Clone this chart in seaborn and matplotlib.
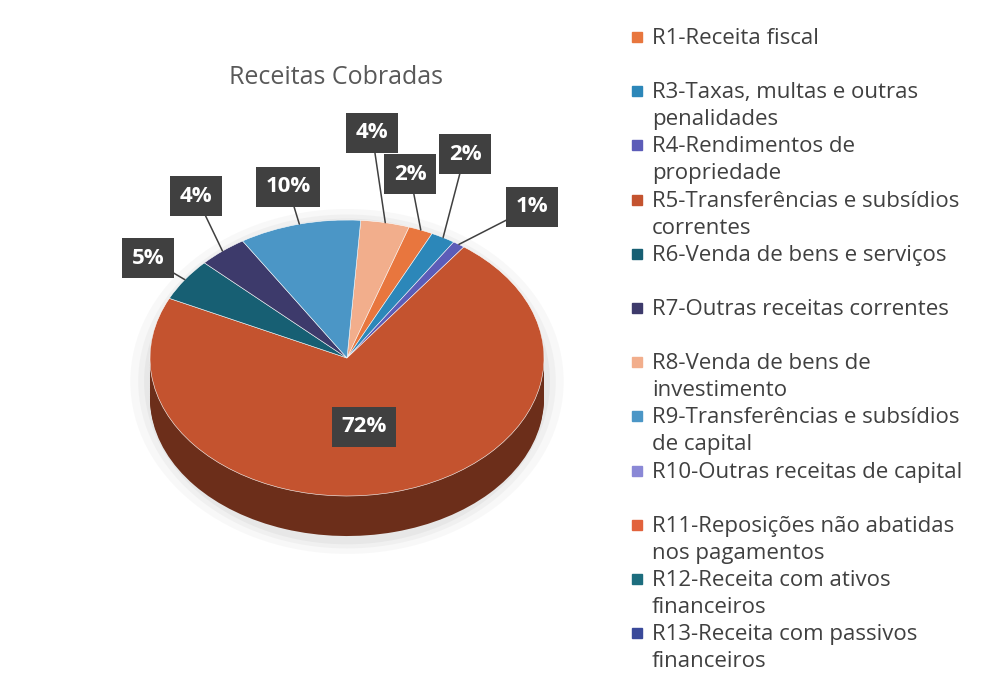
import numpy as np
import matplotlib
matplotlib.use("Agg")
import matplotlib.pyplot as plt
from matplotlib.patches import Rectangle, Ellipse
import seaborn as sns

# data
categories = ["R1-Receita fiscal",
              "R3-Taxas, multas e outras\npenalidades",
              "R4-Rendimentos de\npropriedade",
              "R5-Transferências e subsídios\ncorrentes",
              "R6-Venda de bens e serviços",
              "R7-Outras receitas correntes",
              "R8-Venda de bens de\ninvestimento",
              "R9-Transferências e subsídios\nde capital",
              "R10-Outras receitas de capital",
              "R11-Reposições não abatidas\nnos pagamentos",
              "R12-Receita com ativos\nfinanceiros",
              "R13-Receita com passivos\nfinanceiros"]
shares = [2, 2, 1, 72, 5, 4, 4, 10, 0, 0, 0, 0]
colors = ["#E8763E", "#2C87B9", "#5C5CB8", "#C4532F", "#175F73", "#3D3A6B",
          "#F2AE8C", "#4B96C6", "#8A88D6", "#E2623C", "#1C6D7E", "#3A4A9A"]
# clockwise from the top of the pie
pie_order = [6, 0, 1, 2, 3, 4, 5, 7]

# label box centres (pixels in the 987x677 picture)
label_px = {6: (372, 133), 0: (410, 174), 1: (465, 154), 2: (532, 207),
            3: (364, 427), 4: (148, 258), 5: (196, 196), 7: (288, 187)}

sns.set_theme(style="white")
plt.rcParams["font.family"] = ["Open Sans", "DejaVu Sans"]

W, H = 987, 677
fig = plt.figure(figsize=(W / 100, H / 100), dpi=100)
fig.patch.set_facecolor("white")

# pie geometry in pixels
cx, cy, rx, ry = 347, 358, 197, 138
ax_l, ax_r, ax_t, ax_b = 97, 597, 110, 606
ax = fig.add_axes([ax_l / W, (H - ax_b) / H, (ax_r - ax_l) / W, (ax_b - ax_t) / H])

def px2data(px, py):
    return (px - cx) / rx, (cy - py) / ry

vals = [shares[i] for i in pie_order]
cols = [colors[i] for i in pie_order]
dark = [tuple(np.array(matplotlib.colors.to_rgb(c)) * 0.55) for c in cols]

# soft shadow
for k, a in zip([1.10, 1.06, 1.03], [0.05, 0.06, 0.08]):
    ax.add_patch(Ellipse((0, -0.17), 2 * k, 2 * k + 0.3, color="#808080", alpha=a, lw=0, zorder=0))

# side of the 3D pie
depth = 0.29
for d in np.linspace(depth, 0.01, 25):
    ax.pie(vals, colors=dark, startangle=86, counterclock=False, center=(0, -d),
           radius=1, wedgeprops=dict(linewidth=0))

wedges, _ = ax.pie(vals, colors=cols, startangle=86, counterclock=False,
                   radius=1, wedgeprops=dict(linewidth=0.4, edgecolor="white"))

for w, idx in zip(wedges, pie_order):
    mid = np.deg2rad((w.theta1 + w.theta2) / 2)
    tx, ty = px2data(*label_px[idx])
    txt = f"{shares[idx]}%"
    box = dict(boxstyle="square,pad=0.42", fc="#404040", ec="none")
    if shares[idx] > 50:
        ax.text(tx, ty, txt, ha="center", va="center", color="white",
                fontsize=16, fontweight="bold", bbox=box, zorder=5)
    else:
        ax.annotate(txt, xy=(np.cos(mid), np.sin(mid)), xytext=(tx, ty),
                    ha="center", va="center", color="white", fontsize=16,
                    fontweight="bold", bbox=box, zorder=5,
                    arrowprops=dict(arrowstyle="-", color="#404040", lw=1.1,
                                    shrinkA=0, shrinkB=0))

ax.set_aspect("auto")
ax.set_xlim((ax_l - cx) / rx, (ax_r - cx) / rx)
ax.set_ylim((cy - ax_b) / ry, (cy - ax_t) / ry)
ax.axis("off")

fig.text(336 / W, 1 - 77 / H, "Receitas Cobradas", ha="center", va="center",
         fontsize=18, color="#595959")

# legend
base0, step, line_h = 44, 54.2, 27
for i, (lab, col) in enumerate(zip(categories, colors)):
    yb = base0 + i * step
    fig.patches.append(Rectangle((632 / W, 1 - (yb - 2) / H), 10 / W, 10 / H,
                                 transform=fig.transFigure, color=col))
    for j, line in enumerate(lab.split("\n")):
        fig.text(652 / W, 1 - (yb + j * line_h) / H, line, ha="left",
                 va="baseline", fontsize=16, color="#404040")

fig.savefig("out.png", dpi=100)
